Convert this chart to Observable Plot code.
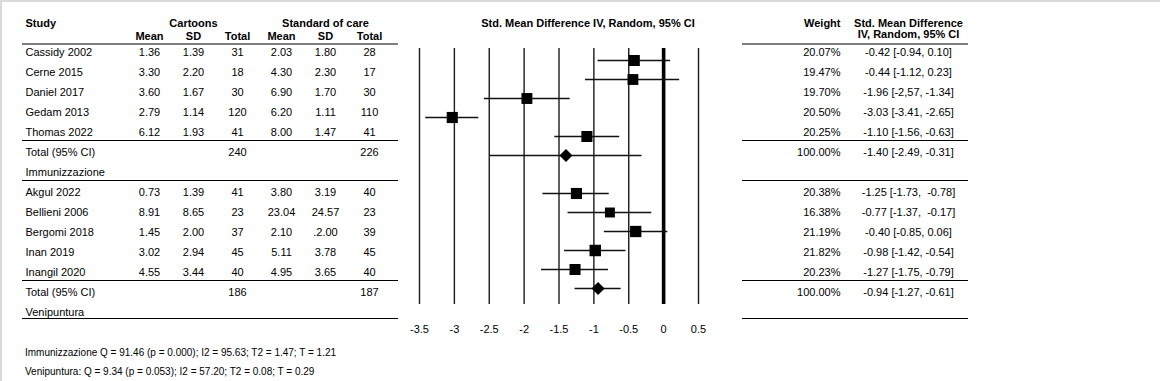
<!DOCTYPE html>
<html>
<head>
<meta charset="utf-8">
<script src="https://cdn.jsdelivr.net/npm/d3@7"></script>
<script src="https://cdn.jsdelivr.net/npm/@observablehq/plot@0.6"></script>
<style>
  body { margin: 0; background: #fff; }
  #chart { position: relative; width: 1160px; height: 381px; overflow: hidden; background: #fff;
           font-family: "Liberation Sans", Arial, sans-serif; color: #000; }
  #chart svg { position: absolute; left: 0; top: 0; }
  #edgeTop { position: absolute; left: 0; top: 0; width: 1160px; height: 2px; background: #dadada; }
  #edgeLeft { position: absolute; left: 0; top: 0; width: 2px; height: 381px; background: #dadada; }
  #notes { position: absolute; left: 25px; top: 343px; font-size: 10px; line-height: 19px; white-space: pre; }
</style>
</head>
<body>
<div id="chart"><div id="edgeTop"></div><div id="edgeLeft"></div></div>
<script>
// ---------- data ----------
const groups = ["Immunizzazione", "Venipuntura"];
const studies = ["Cassidy 2002", "Cerne 2015", "Daniel 2017", "Gedam 2013", "Thomas 2022",
                 "Akgul 2022", "Bellieni 2006", "Bergomi 2018", "Inan 2019", "Inangil 2020"];
const studyGroup = ["Immunizzazione", "Immunizzazione", "Immunizzazione", "Immunizzazione", "Immunizzazione",
                    "Venipuntura", "Venipuntura", "Venipuntura", "Venipuntura", "Venipuntura"];
const cartoonMean = [1.36, 3.30, 3.60, 2.79, 6.12, 0.73, 8.91, 1.45, 3.02, 4.55];
const cartoonSD   = [1.39, 2.20, 1.67, 1.14, 1.93, 1.39, 8.65, 2.00, 2.94, 3.44];
const cartoonN    = [31, 18, 30, 120, 41, 41, 23, 37, 45, 40];
const careMean    = [2.03, 4.30, 6.90, 6.20, 8.00, 3.80, 23.04, 2.10, 5.11, 4.95];
const careSD      = ["1.80", "2.30", "1.70", "1.11", "1.47", "3.19", "24.57", ".2.00", "3.78", "3.65"];
const careN       = [28, 17, 30, 110, 41, 40, 23, 39, 45, 40];
const weights     = [20.07, 19.47, 19.70, 20.50, 20.25, 20.38, 16.38, 21.19, 21.82, 20.23];
const smd         = [-0.42, -0.44, -1.96, -3.03, -1.10, -1.25, -0.77, -0.40, -0.98, -1.27];
const ciLow       = [-0.94, -1.12, -2.57, -3.41, -1.56, -1.73, -1.37, -0.85, -1.42, -1.75];
const ciHigh      = [0.10, 0.23, -1.34, -2.65, -0.63, -0.78, -0.17, 0.06, -0.54, -0.79];
const ciText      = ["-0.42 [-0.94, 0.10]", "-0.44 [-1.12, 0.23]", "-1.96 [-2,57, -1.34]", "-3.03 [-3.41, -2.65]",
                     "-1.10 [-1.56, -0.63]", "-1.25 [-1.73,  -0.78]", "-0.77 [-1.37,  -0.17]", "-0.40 [-0.85, 0.06]",
                     "-0.98 [-1.42, -0.54]", "-1.27 [-1.75, -0.79]"];
const totalN1     = [240, 186];
const totalN2     = [226, 187];
const totalWeight = [100, 100];
const pooledSmd   = [-1.40, -0.94];
const pooledLow   = [-2.49, -1.27];
const pooledHigh  = [-0.31, -0.61];
const pooledText  = ["-1.40 [-2.49, -0.31]", "-0.94 [-1.27, -0.61]"];
const axisTicks   = [-3.5, -3, -2.5, -2, -1.5, -1, -0.5, 0, 0.5];
const tableColumns = ["Mean", "SD", "Total", "Mean", "SD", "Total"];
const armHeaders   = ["Cartoons", "Standard of care"];
const notes = ["Immunizzazione Q = 91.46 (p = 0.000); I2 = 95.63; T2 = 1.47; T = 1.21",
               "Venipuntura: Q = 9.34 (p = 0.053); I2 = 57.20; T2 = 0.08; T = 0.29"];

// ---------- derived tables ----------
const rows = [];
groups.forEach((g, gi) => {
  studies.forEach((s, i) => { if (studyGroup[i] === g) rows.push({key: s, kind: "study", i}); });
  rows.push({key: "total:" + g, kind: "total", gi});
  rows.push({key: "label:" + g, kind: "label", gi});
});
const rowKeys = rows.map(r => r.key);
const colKeys = ["m1", "sd1", "n1", "m2", "sd2", "n2"];

const leftLabels = rows.map(r => ({key: r.key,
  text: r.kind === "study" ? studies[r.i] : r.kind === "total" ? "Total (95% CI)" : groups[r.gi]}));
const leftCells = [];
const rightCells = [];
rows.forEach(r => {
  if (r.kind === "study") {
    const i = r.i;
    [["m1", cartoonMean[i].toFixed(2)], ["sd1", cartoonSD[i].toFixed(2)], ["n1", String(cartoonN[i])],
     ["m2", careMean[i].toFixed(2)], ["sd2", careSD[i]], ["n2", String(careN[i])]]
      .forEach(([col, text]) => leftCells.push({key: r.key, col, text}));
    rightCells.push({key: r.key, col: "weight", text: weights[i].toFixed(2) + "%"});
    rightCells.push({key: r.key, col: "smd", text: ciText[i]});
  } else if (r.kind === "total") {
    leftCells.push({key: r.key, col: "n1", text: String(totalN1[r.gi])});
    leftCells.push({key: r.key, col: "n2", text: String(totalN2[r.gi])});
    rightCells.push({key: r.key, col: "weight", text: totalWeight[r.gi].toFixed(2) + "%"});
    rightCells.push({key: r.key, col: "smd", text: pooledText[r.gi]});
  }
});
const studyData = rows.filter(r => r.kind === "study").map(r => ({key: r.key, est: smd[r.i], lo: ciLow[r.i], hi: ciHigh[r.i], w: weights[r.i]}));
const pooledData = rows.filter(r => r.kind === "total").map(r => ({key: r.key, est: pooledSmd[r.gi], lo: pooledLow[r.gi], hi: pooledHigh[r.gi]}));

const firstKey = rowKeys[0];
const lastKey = rowKeys[rowKeys.length - 1];
const sepKeys = rows.filter((r, k) => r.kind === "total" || (k > 0 && rows[k - 1].kind === "label")).map(r => r.key);

// ---------- plots ----------
const W = 1160, H = 381;
const style = {fontFamily: '"Liberation Sans", Arial, sans-serif', fontSize: "11px", background: "transparent", color: "#000", overflow: "visible"};
const yRows = {type: "point", domain: rowKeys, range: [51.5, 313], padding: 0, axis: null};
const ruleStyle = {stroke: "#000", strokeWidth: 1.2};
const separators = [
  Plot.ruleY([firstKey], {...ruleStyle, dy: -8.5}),
  Plot.ruleY(sepKeys, {...ruleStyle, dy: -12}),
  Plot.ruleY([lastKey], {...ruleStyle, dy: 6})
];

const left = Plot.plot({
  width: W, height: H, marginLeft: 22, marginRight: W - 398, marginTop: 43, marginBottom: H - 320,
  x: {type: "point", domain: colKeys, range: [147, 371], padding: 0, axis: null},
  y: yRows,
  style,
  marks: [
    ...separators,
    Plot.text(leftLabels, {y: "key", text: "text", frameAnchor: "left", textAnchor: "start", dx: 3}),
    Plot.text(leftCells, {x: "col", y: "key", text: "text"}),
    Plot.text(["Study"], {text: d => d, frameAnchor: "top-left", textAnchor: "start", dx: 3, dy: -20, lineAnchor: "middle", fontWeight: "bold"}),
    Plot.text(armHeaders, {x: (d, i) => ["sd1", "sd2"][i], text: d => d, frameAnchor: "top", dy: -20, lineAnchor: "middle", fontWeight: "bold"}),
    Plot.text(tableColumns, {x: (d, i) => colKeys[i], text: d => d, frameAnchor: "top", dy: -7, lineAnchor: "middle", fontWeight: "bold"})
  ]
});

const forestKeys = rowKeys.slice(0, -1);
const forest = Plot.plot({
  width: W, height: H, marginLeft: 419, marginRight: W - 698, marginTop: 48, marginBottom: H - 304,
  x: {domain: [-3.5, 0.5]},
  y: {type: "point", domain: forestKeys, range: [57.7, 290], padding: 0, axis: null},
  r: {type: "sqrt", domain: [0, 20], range: [0, 6.2]},
  style,
  marks: [
    Plot.ruleX(axisTicks, {stroke: "#1a1a1a", strokeWidth: 1.4}),
    Plot.ruleX([0], {stroke: "#000", strokeWidth: 3.6}),
    Plot.ruleY(studyData, {y: "key", x1: "lo", x2: "hi", stroke: "#111", strokeWidth: 1.4}),
    Plot.ruleY(pooledData, {y: "key", x1: "lo", x2: "hi", stroke: "#111", strokeWidth: 1.4}),
    Plot.dot(studyData, {x: "est", y: "key", r: "w", symbol: "square", fill: "#000", stroke: null}),
    Plot.dot(pooledData, {x: "est", y: "key", r: 5.9, symbol: "diamond2", fill: "#000", stroke: null}),
    Plot.axisX(axisTicks, {anchor: "bottom", tickSize: 0, tickPadding: 21, tickFormat: d => String(d), label: null}),
    Plot.text(["Std. Mean Difference IV, Random, 95% CI"], {text: d => d, frameAnchor: "top", dx: 29, dy: -25, lineAnchor: "middle", fontWeight: "bold"})
  ]
});

const right = Plot.plot({
  width: W, height: H, marginLeft: 742, marginRight: W - 968, marginTop: 43, marginBottom: H - 320,
  x: {type: "point", domain: ["weight", "smd"], range: [840, 908], padding: 0, axis: null},
  y: yRows,
  style,
  marks: [
    ...separators,
    Plot.text(rightCells.filter(d => d.col === "weight"), {x: "col", y: "key", text: "text", textAnchor: "end"}),
    Plot.text(rightCells.filter(d => d.col === "smd"), {x: "col", y: "key", text: "text"}),
    Plot.text(["Weight"], {x: () => "weight", text: d => d, frameAnchor: "top", textAnchor: "end", dy: -20, lineAnchor: "middle", fontWeight: "bold"}),
    Plot.text(["Std. Mean Difference"], {x: () => "smd", text: d => d, frameAnchor: "top", dy: -20, lineAnchor: "middle", fontWeight: "bold"}),
    Plot.text(["IV, Random, 95% CI"], {x: () => "smd", text: d => d, frameAnchor: "top", dy: -9.5, lineAnchor: "middle", fontWeight: "bold"})
  ]
});

const chart = document.getElementById("chart");
chart.append(left, forest, right);
const notesDiv = document.createElement("div");
notesDiv.id = "notes";
notesDiv.textContent = notes.join("\n");
chart.append(notesDiv);
</script>
</body>
</html>
